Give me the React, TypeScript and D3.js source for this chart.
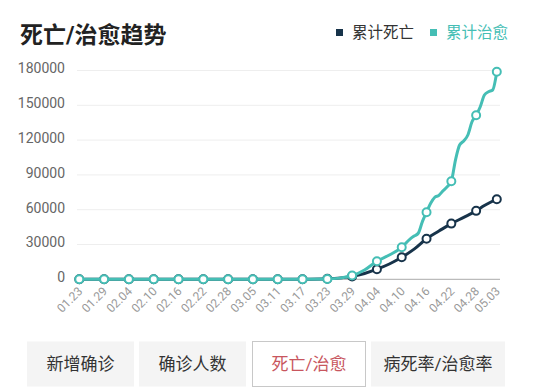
import { useEffect, useRef } from 'react';
import * as d3 from 'd3';

// x-axis tick labels (every 6 days, plus the last day)
const tickLabels = [
  '01.23', '01.29', '02.04', '02.10', '02.16', '02.22', '02.28', '03.05', '03.11',
  '03.17', '03.23', '03.29', '04.04', '04.10', '04.16', '04.22', '04.28', '05.03',
];

const yTicks = [0, 30000, 60000, 90000, 120000, 150000, 180000];

// cumulative deaths
const deathDates = [
  '01.23', '01.29', '02.04', '02.10', '02.16', '02.22', '02.28', '03.05', '03.11',
  '03.17', '03.23', '03.29', '04.01', '04.04', '04.07', '04.10', '04.13', '04.16',
  '04.19', '04.22', '04.25', '04.28', '04.30', '05.03',
];
const deaths = [
  0, 0, 0, 0, 0, 0, 0, 10, 30,
  110, 500, 2500, 5000, 8700, 13200, 19000, 26000, 35000,
  41600, 48000, 53400, 59000, 63600, 69000,
];

// cumulative recovered
const recoveredDates = [
  '01.23', '01.29', '02.04', '02.10', '02.16', '02.22', '02.28', '03.05', '03.11',
  '03.17', '03.23', '03.29', '04.01', '04.04', '04.07', '04.10', '04.12', '04.13',
  '04.14', '04.15', '04.16', '04.17', '04.18', '04.19', '04.20', '04.21', '04.22',
  '04.23', '04.24', '04.25', '04.26', '04.27', '04.28', '04.29', '04.30', '05.01',
  '05.02', '05.03',
];
const recovered = [
  0, 0, 0, 0, 0, 0, 0, 0, 0,
  100, 300, 3200, 8000, 15600, 20900, 27600, 34700, 37300,
  39700, 49700, 57800, 65500, 70700, 72400, 76400, 79800, 84600,
  102800, 115800, 119200, 124400, 135800, 141400, 148800, 158900, 161700,
  163200, 178900,
];

const legendItems = ['累计死亡', '累计治愈'];
const tabs = ['新增确诊', '确诊人数', '死亡/治愈', '病死率/治愈率'];
const activeTab = 2;

const DARK = '#17334a';
const TEAL = '#45beb5';
const FONT = "Roboto, 'Noto Sans CJK SC', sans-serif";

const parse = (s: string) => {
  const [m, d] = s.split('.').map(Number);
  return new Date(2020, m - 1, d);
};

export default function App() {
  const svgRef = useRef<SVGSVGElement>(null);

  useEffect(() => {
    if (!svgRef.current) return;
    const svg = d3.select(svgRef.current);
    svg.selectAll('*').remove();

    const x = d3.scaleTime()
      .domain([parse('01.23'), parse('05.03')])
      .range([79.3, 496.8]);
    const y = d3.scaleLinear().domain([0, 180000]).range([279.3, 70.5]);

    // title
    svg.append('text')
      .attr('x', 20).attr('y', 43)
      .attr('font-size', 23).attr('font-weight', 'bold')
      .attr('fill', '#222').attr('font-family', FONT)
      .text('死亡/治愈趋势');

    // legend
    const legendX = [336, 430];
    legendItems.forEach((label, i) => {
      const color = i === 0 ? DARK : TEAL;
      svg.append('rect')
        .attr('x', legendX[i]).attr('y', 29)
        .attr('width', 7).attr('height', 7)
        .attr('fill', color);
      svg.append('text')
        .attr('x', legendX[i] + 16).attr('y', 38)
        .attr('font-size', 15.5).attr('font-family', FONT)
        .attr('fill', i === 0 ? '#333' : TEAL)
        .text(label);
    });

    // grid + y labels
    yTicks.forEach((v) => {
      if (v > 0) {
        svg.append('line')
          .attr('x1', 77).attr('x2', 500)
          .attr('y1', y(v)).attr('y2', y(v))
          .attr('stroke', '#eeeeee').attr('stroke-width', 1);
      }
      svg.append('text')
        .attr('x', 65).attr('y', y(v) - 2)
        .attr('dy', '0.35em')
        .attr('text-anchor', 'end')
        .attr('font-size', 14).attr('font-family', FONT)
        .attr('fill', '#666')
        .text(v);
    });

    // x axis line
    svg.append('line')
      .attr('x1', 77).attr('x2', 500)
      .attr('y1', y(0)).attr('y2', y(0))
      .attr('stroke', '#aaa').attr('stroke-width', 1);

    // x labels
    tickLabels.forEach((lab) => {
      const px = x(parse(lab));
      svg.append('text')
        .attr('transform', `translate(${px + 4},${292}) rotate(-45)`)
        .attr('text-anchor', 'end')
        .attr('font-size', 12).attr('font-family', FONT)
        .attr('fill', '#999')
        .text(lab);
    });

    const series = [
      { dates: deathDates, values: deaths, color: DARK },
      { dates: recoveredDates, values: recovered, color: TEAL },
    ];

    const line = d3.line<[Date, number]>()
      .x((d) => x(d[0]))
      .y((d) => y(d[1]))
      .curve(d3.curveMonotoneX);

    series.forEach((s) => {
      const pts: [Date, number][] = s.dates.map((d, i) => [parse(d), s.values[i]]);
      svg.append('path')
        .attr('d', line(pts) as string)
        .attr('fill', 'none')
        .attr('stroke', s.color)
        .attr('stroke-width', 3)
        .attr('stroke-linejoin', 'round');
      svg.selectAll(null)
        .data(pts.filter((p, i) => tickLabels.includes(s.dates[i])))
        .enter()
        .append('circle')
        .attr('cx', (d) => x(d[0]))
        .attr('cy', (d) => y(d[1]))
        .attr('r', 4)
        .attr('fill', '#fff')
        .attr('stroke', s.color)
        .attr('stroke-width', 2);
    });

    // tabs
    const tabX = [27, 139, 252, 371];
    const tabW = [107, 107, 114, 134];
    tabs.forEach((t, i) => {
      const active = i === activeTab;
      svg.append('rect')
        .attr('x', tabX[i] + (active ? 0.5 : 0)).attr('y', 341.5)
        .attr('width', tabW[i] - (active ? 1 : 0)).attr('height', 45)
        .attr('fill', active ? '#fff' : '#f4f4f4')
        .attr('stroke', active ? '#c8c8c8' : 'none');
      svg.append('text')
        .attr('x', tabX[i] + tabW[i] / 2).attr('y', 364)
        .attr('dy', '0.35em')
        .attr('text-anchor', 'middle')
        .attr('font-size', 17).attr('font-family', FONT)
        .attr('fill', active ? '#c8565e' : '#333')
        .text(t);
    });
  }, []);

  return (
    <svg
      ref={svgRef}
      width={550}
      height={388}
      style={{ position: 'absolute', left: 0, top: 0, background: '#fff' }}
    />
  );
}
